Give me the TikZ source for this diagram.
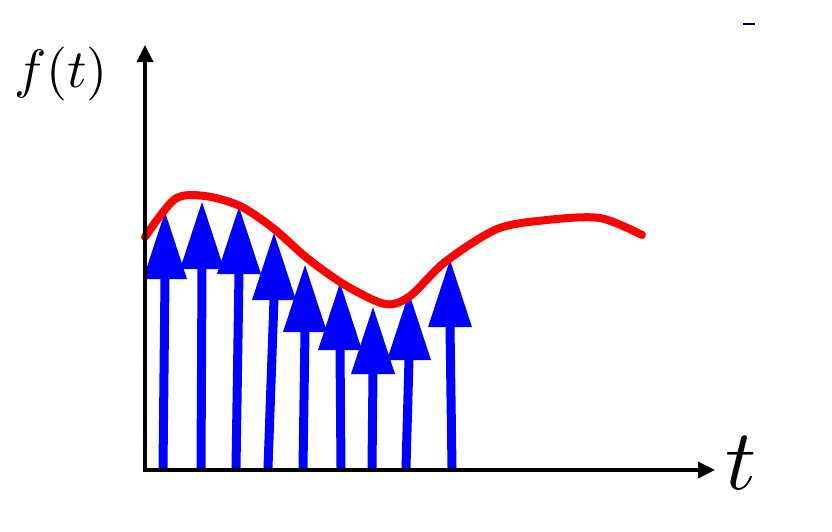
\documentclass[tikz,border=0pt]{standalone}
\usetikzlibrary{arrows.meta}
\definecolor{pureblue}{RGB}{0,0,255}
\definecolor{purered}{RGB}{255,0,0}
\newcommand\bluearrow[3]{%
  \draw[shaft] (#1,468) -- (#2,#3+66);
  \fill[pureblue] (#2,#3) -- (#2-22,#3+67) -- (#2+22,#3+67) -- cycle;}
\begin{document}
\begin{tikzpicture}[x=1pt,y=-1pt,
  axis/.style={line width=3.5pt,-{Triangle[length=17pt,width=16pt]}},
  shaft/.style={pureblue,line width=9pt},
  curve/.style={purered,line width=8pt,line cap=round},
  lbl/.style={inner sep=0pt,anchor=base}]
\useasboundingbox (0,0) rectangle (832,531);
\coordinate (O) at (145,470);
\coordinate (Y) at (145,45);
\coordinate (X) at (715,470);
\bluearrow{163}{165}{212}
\bluearrow{201}{202}{202}
\bluearrow{236}{239}{207}
\bluearrow{268}{274}{233}
\bluearrow{303}{305}{265}
\bluearrow{341}{340}{283}
\bluearrow{372}{373}{307}
\bluearrow{406}{409}{293}
\bluearrow{452}{450}{260}
\draw[curve] plot[smooth] coordinates {(145,237) (175,199) (205,196) (240,206) (273,228) (307,258) (345,285) (385,304) (410,296) (445,262) (497,229) (547,220) (600,218) (642,235)};
\draw[axis] ([yshift=1.75pt]O) -- (Y);
\draw[axis] ([xshift=-1.75pt]O) -- (X);
\node[lbl,scale=5.4] (ft) at (61,87) {$f(t)$};
\node[lbl,scale=8.6] (tl) at (741,489) {$t$};
\draw[line width=2pt,black!80!blue] (743,24) -- (755,24);
\end{tikzpicture}
\end{document}
